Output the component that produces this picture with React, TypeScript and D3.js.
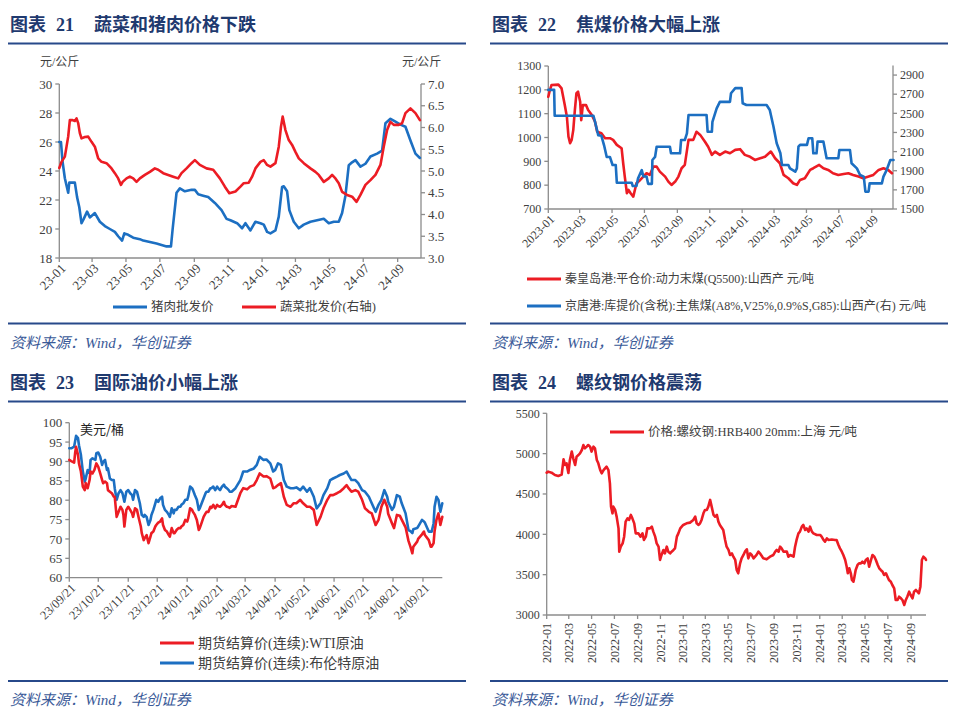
import React from "react";
import * as d3 from "d3";

type P = [number, number];

// ---------------- Panel 21: 蔬菜和猪肉价格 ----------------
const p21Base = "2023-01-01";
const p21End = "2024-10-13";
const p21TickLabels = ["23-01", "23-03", "23-05", "23-07", "23-09", "23-11", "24-01", "24-03", "24-05", "24-07", "24-09"];
const p21LeftTicks = [18, 20, 22, 24, 26, 28, 30];
const p21RightTicks = [3.0, 3.5, 4.0, 4.5, 5.0, 5.5, 6.0, 6.5, 7.0];
// [days since 2023-01-01, 元/公斤]
const porkPrice: P[] = [
  [0, 26.0], [3, 26.0], [6, 24.6], [10, 23.5], [13, 23.0], [16, 22.5], [18, 23.2], [28, 23.2], [32, 22.2], [36, 21.5],
  [40, 20.4], [44, 20.7], [50, 21.2], [55, 20.8], [64, 21.1], [73, 20.5], [82, 20.2], [91, 20.0], [100, 19.8], [106, 19.5],
  [113, 19.2], [117, 19.7], [124, 19.6], [133, 19.4], [145, 19.3], [151, 19.2], [163, 19.1], [175, 19.0], [184, 18.9], [193, 18.8],
  [201, 18.8], [204, 20.0], [211, 22.5], [217, 22.8], [226, 22.6], [238, 22.7], [244, 22.7], [250, 22.4], [259, 22.3], [268, 22.2],
  [280, 21.8], [292, 21.3], [301, 20.7], [308, 20.6], [320, 20.4], [329, 20.05], [335, 20.4], [344, 19.9], [353, 20.5], [362, 20.4],
  [368, 20.3], [374, 19.8], [380, 19.7], [389, 19.9], [395, 20.85], [401, 22.9], [404, 22.95], [410, 22.6], [414, 21.3], [422, 20.5],
  [431, 20.05], [440, 20.3], [452, 20.5], [464, 20.6], [476, 20.7], [485, 20.4], [494, 20.5], [503, 20.5], [509, 21.1], [515, 22.3],
  [521, 24.4], [527, 24.6], [533, 24.75], [542, 24.3], [551, 24.5], [560, 25.0], [572, 25.2], [581, 25.4], [587, 27.3], [596, 27.6],
  [605, 27.4], [614, 27.2], [623, 27.05], [632, 26.1], [641, 25.2], [649, 24.9],
];
const vegPrice: P[] = [
  [0, 5.07], [4, 5.21], [10, 5.33], [13, 5.56], [16, 5.79], [19, 6.17], [24, 6.17], [28, 6.15], [31, 6.21], [34, 6.10],
  [37, 5.87], [40, 5.75], [46, 5.78], [52, 5.79], [58, 5.67], [64, 5.56], [70, 5.29], [76, 5.21], [85, 5.18], [94, 5.06],
  [100, 4.95], [106, 4.83], [111, 4.68], [114, 4.75], [121, 4.83], [127, 4.87], [133, 4.83], [139, 4.75], [145, 4.83], [154, 4.91],
  [163, 4.98], [172, 5.06], [178, 5.03], [187, 4.95], [196, 4.91], [205, 4.87], [214, 4.83], [220, 4.95], [229, 5.06], [238, 5.18],
  [244, 5.25], [253, 5.14], [265, 5.06], [277, 5.03], [289, 4.83], [298, 4.64], [306, 4.49], [317, 4.53], [326, 4.64], [332, 4.72],
  [341, 4.73], [347, 4.87], [353, 5.06], [362, 5.21], [368, 5.25], [374, 5.14], [380, 5.10], [389, 5.18], [395, 5.56], [399, 6.02],
  [402, 6.25], [407, 5.94], [413, 5.71], [419, 5.60], [425, 5.44], [431, 5.29], [440, 5.18], [452, 5.06], [461, 4.98], [467, 4.91],
  [476, 4.75], [485, 4.83], [491, 4.91], [497, 4.83], [503, 4.72], [509, 4.52], [518, 4.45], [527, 4.41], [535, 4.29], [542, 4.45],
  [551, 4.68], [560, 4.79], [569, 4.91], [578, 5.14], [584, 5.56], [590, 5.94], [596, 6.13], [602, 6.06], [611, 6.06], [617, 6.10],
  [623, 6.33], [632, 6.44], [641, 6.33], [649, 6.17],
];

// ---------------- Panel 22: 焦煤价格 ----------------
const p22Base = "2023-01-01";
const p22End = "2024-10-11";
const p22TickLabels = ["2023-01", "2023-03", "2023-05", "2023-07", "2023-09", "2023-11", "2024-01", "2024-03", "2024-05", "2024-07", "2024-09"];
const p22LeftTicks = [700, 800, 900, 1000, 1100, 1200, 1300];
const p22RightTicks = [1500, 1700, 1900, 2100, 2300, 2500, 2700, 2900];
const thermalCoal: P[] = [
  [0, 1171], [3, 1199], [6, 1220], [19, 1222], [25, 1206], [28, 1171], [31, 1136], [35, 1087], [38, 1003], [41, 976],
  [44, 990], [47, 1031], [50, 1115], [53, 1186], [56, 1192], [60, 1150], [62, 1073], [65, 1136], [71, 1136], [75, 1115],
  [82, 1094], [88, 1066], [92, 1024], [100, 1018], [107, 997], [116, 997], [122, 990], [129, 969], [138, 955], [141, 892],
  [144, 836], [148, 766], [151, 780], [155, 766], [160, 752], [163, 780], [166, 808], [173, 822], [179, 836], [185, 850],
  [191, 843], [198, 878], [204, 878], [210, 857], [220, 836], [226, 815], [232, 801], [239, 815], [245, 836], [251, 871],
  [257, 885], [264, 990], [273, 990], [279, 1024], [286, 1011], [295, 982], [301, 961], [308, 927], [314, 941], [323, 927],
  [333, 941], [342, 934], [352, 948], [361, 951], [370, 927], [380, 919], [389, 906], [399, 913], [408, 919], [419, 941],
  [427, 913], [436, 892], [443, 843], [452, 829], [461, 808], [468, 801], [474, 822], [483, 829], [493, 864], [499, 871],
  [510, 885], [518, 871], [527, 864], [536, 850], [546, 843], [556, 847], [565, 850], [574, 843], [584, 836], [593, 829],
  [603, 836], [612, 843], [622, 864], [631, 871], [640, 864], [647, 850],
];
const cokingCoal: P[] = [
  [0, 2745], [11, 2745], [12, 2475], [85, 2475], [88, 2411], [94, 2272], [100, 2265], [105, 2166], [110, 2044], [116, 2044],
  [121, 1960], [127, 1960], [129, 1775], [157, 1775], [159, 1740], [166, 1740], [169, 1820], [176, 1907], [179, 1840], [185, 1840],
  [188, 1763], [195, 1763], [196, 2012], [201, 2044], [204, 2151], [229, 2151], [231, 2082], [248, 2082], [250, 2221], [257, 2221],
  [261, 2291], [264, 2482], [298, 2482], [300, 2308], [308, 2308], [309, 2411], [317, 2552], [323, 2620], [342, 2620], [344, 2710],
  [352, 2763], [364, 2763], [366, 2605], [373, 2587], [411, 2587], [417, 2535], [424, 2360], [430, 2187], [437, 2082], [440, 1960],
  [452, 1960], [455, 1925], [465, 1890], [468, 1925], [471, 2151], [474, 2170], [487, 2170], [490, 2239], [497, 2239], [499, 2082],
  [505, 2082], [507, 2204], [518, 2204], [524, 2030], [546, 2030], [548, 2116], [568, 2116], [571, 1978], [581, 1925], [587, 1855],
  [594, 1838], [597, 1681], [603, 1681], [605, 1768], [628, 1768], [631, 1838], [637, 1907], [644, 2012], [650, 2012],
];

// ---------------- Panel 23: 国际油价 ----------------
const p23Base = "2023-09-21";
const p23End = "2024-10-11";
const p23TickLabels = ["23/09/21", "23/10/21", "23/11/21", "23/12/21", "24/01/21", "24/02/21", "24/03/21", "24/04/21", "24/05/21", "24/06/21", "24/07/21", "24/08/21", "24/09/21"];
const p23Ticks = [60, 65, 70, 75, 80, 85, 90, 95, 100];
const wti: P[] = [
  [0, 90.4], [2, 90.1], [5, 89.7], [6, 92.1], [7, 93.8], [9, 91.7], [10, 89.5], [12, 87.4], [14, 83.5], [16, 82.6],
  [17, 84.4], [19, 83.1], [21, 85.2], [22, 87.4], [24, 86.9], [26, 87.8], [28, 89.5], [30, 88.6], [32, 86.9], [34, 85.2],
  [35, 84.4], [37, 84.8], [39, 84.4], [40, 82.6], [42, 82.2], [44, 81.8], [46, 80.9], [47, 80.9], [49, 75.7], [51, 77.0],
  [53, 78.3], [55, 77.5], [56, 76.2], [57, 73.2], [59, 77.5], [61, 78.3], [63, 77.5], [65, 76.6], [66, 75.7], [68, 77.9],
  [70, 77.5], [72, 75.3], [74, 73.2], [75, 71.5], [77, 69.7], [78, 70.2], [80, 71.0], [82, 68.9], [84, 70.6], [85, 71.5],
  [87, 71.9], [89, 73.2], [90, 73.6], [92, 74.2], [94, 74.5], [96, 75.3], [97, 73.6], [99, 72.3], [101, 71.9], [103, 71.0],
  [104, 70.6], [106, 72.8], [108, 71.5], [109, 71.5], [111, 72.3], [113, 72.8], [115, 72.8], [116, 73.2], [118, 73.6], [120, 74.9],
  [122, 74.5], [123, 75.3], [125, 77.9], [127, 77.5], [128, 77.0], [130, 76.2], [132, 74.9], [134, 72.3], [135, 72.8], [137, 74.2],
  [139, 75.7], [141, 76.6], [142, 77.0], [144, 77.0], [146, 78.3], [147, 78.0], [149, 78.8], [151, 77.9], [153, 78.8], [154, 78.5],
  [156, 78.3], [158, 78.8], [160, 79.6], [161, 78.8], [163, 78.3], [165, 78.2], [166, 78.0], [168, 78.5], [172, 78.3], [177, 81.8],
  [180, 83.1], [184, 82.8], [187, 83.5], [191, 83.9], [194, 85.2], [197, 86.9], [201, 86.1], [204, 86.2], [208, 85.6], [211, 83.1],
  [213, 83.3], [216, 83.9], [219, 84.4], [222, 80.9], [225, 78.8], [229, 78.3], [232, 79.2], [235, 79.2], [239, 80.1], [242, 79.2],
  [246, 78.3], [249, 78.3], [253, 77.5], [256, 73.6], [260, 75.7], [263, 77.9], [267, 80.1], [270, 81.3], [273, 81.3], [277, 81.8],
  [280, 82.2], [284, 83.1], [287, 83.9], [289, 83.1], [292, 82.2], [296, 82.6], [299, 82.2], [303, 80.1], [306, 77.9], [310, 77.0],
  [313, 76.6], [317, 73.6], [320, 74.9], [323, 78.3], [326, 80.1], [329, 78.3], [330, 76.5], [334, 74.0], [336, 72.8], [339, 76.2],
  [342, 76.0], [344, 75.0], [348, 73.0], [351, 69.5], [353, 68.0], [355, 66.3], [356, 68.0], [360, 69.3], [361, 70.0], [365, 71.2],
  [367, 71.9], [368, 71.0], [372, 69.7], [374, 68.0], [375, 68.0], [377, 68.9], [378, 72.0], [380, 75.0], [382, 76.6], [384, 73.6],
  [386, 75.7],
];
const brent: P[] = [
  [0, 93.4], [2, 93.4], [5, 93.8], [7, 96.6], [9, 96.0], [10, 94.2], [12, 91.7], [14, 87.4], [16, 84.8], [17, 85.6],
  [19, 87.8], [21, 86.9], [22, 90.4], [24, 90.8], [27, 90.4], [28, 92.1], [30, 92.3], [32, 91.2], [34, 89.1], [35, 89.9],
  [37, 90.4], [39, 87.8], [40, 88.2], [42, 85.6], [44, 85.2], [46, 85.2], [47, 83.1], [49, 80.1], [51, 81.8], [53, 82.6],
  [55, 81.8], [57, 79.6], [59, 82.2], [61, 82.6], [63, 81.8], [65, 81.3], [66, 80.1], [68, 82.6], [70, 82.2], [73, 79.2],
  [75, 76.2], [77, 75.7], [78, 76.2], [80, 75.7], [82, 73.6], [84, 74.9], [85, 76.2], [87, 77.5], [89, 79.2], [90, 80.1],
  [92, 79.6], [94, 80.5], [96, 80.9], [97, 78.8], [99, 77.5], [101, 77.0], [103, 76.2], [104, 75.7], [106, 77.9], [108, 76.6],
  [109, 77.5], [111, 77.5], [113, 78.3], [115, 78.3], [116, 78.8], [118, 79.2], [120, 80.1], [122, 80.1], [123, 80.9], [125, 83.5],
  [127, 83.1], [128, 82.6], [130, 81.3], [132, 80.1], [134, 77.5], [135, 77.9], [137, 79.2], [139, 80.5], [141, 81.8], [142, 82.2],
  [144, 82.2], [146, 83.1], [147, 83.1], [149, 83.5], [151, 82.6], [153, 83.5], [154, 83.1], [156, 82.6], [158, 83.5], [160, 84.0],
  [161, 83.5], [163, 83.1], [165, 82.6], [166, 82.2], [168, 82.2], [172, 83.1], [177, 85.2], [180, 87.4], [184, 87.4], [187, 87.8],
  [191, 88.2], [194, 89.1], [197, 91.2], [201, 90.4], [204, 90.5], [208, 89.5], [211, 87.4], [213, 87.8], [216, 89.5], [219, 89.1],
  [222, 85.2], [225, 83.5], [229, 83.1], [232, 83.1], [235, 83.3], [239, 82.6], [242, 83.5], [246, 82.2], [249, 83.1], [253, 80.9],
  [256, 77.9], [260, 79.2], [263, 81.3], [267, 83.1], [270, 85.2], [273, 85.6], [277, 86.1], [280, 86.5], [284, 86.9], [287, 87.4],
  [289, 86.5], [292, 85.2], [296, 85.2], [299, 84.4], [303, 82.6], [306, 82.2], [310, 80.9], [313, 79.2], [317, 77.0], [320, 78.8],
  [323, 80.1], [326, 82.6], [329, 80.9], [330, 79.6], [334, 77.5], [336, 78.3], [339, 81.3], [342, 80.9], [344, 79.2], [348, 76.6],
  [351, 72.3], [353, 72.0], [355, 71.5], [356, 72.5], [360, 72.8], [361, 73.2], [365, 74.9], [367, 74.5], [368, 74.2], [372, 71.9],
  [374, 71.9], [375, 71.9], [377, 74.0], [378, 78.3], [380, 80.9], [382, 80.1], [384, 77.0], [386, 79.2],
];

// ---------------- Panel 24: 螺纹钢 ----------------
const p24Base = "2022-01-01";
const p24End = "2024-10-11";
const p24TickLabels = ["2022-01", "2022-03", "2022-05", "2022-07", "2022-09", "2022-11", "2023-01", "2023-03", "2023-05", "2023-07", "2023-09", "2023-11", "2024-01", "2024-03", "2024-05", "2024-07", "2024-09"];
const p24Ticks = [3000, 3500, 4000, 4500, 5000, 5500];
const rebar: P[] = [
  [0, 4764], [4, 4777], [13, 4764], [22, 4735], [31, 4723], [40, 4740], [45, 4930], [49, 4860], [53, 4880], [58, 4760],
  [62, 4921], [67, 5025], [71, 4942], [76, 4860], [80, 4963], [85, 4983], [89, 5004], [94, 5045], [98, 5107], [102, 5066],
  [107, 5087], [111, 5107], [116, 5087], [120, 5025], [125, 5087], [129, 5066], [134, 4921], [138, 4880], [143, 4797], [147, 4756],
  [152, 4797], [156, 4818], [160, 4839], [165, 4797], [169, 4632], [172, 4343], [176, 4260], [178, 4343], [183, 4302], [187, 4219],
  [192, 4074], [194, 3785], [198, 3847], [203, 3888], [207, 3971], [211, 4157], [216, 4198], [220, 4178], [225, 4240], [229, 4198],
  [234, 4136], [238, 4012], [245, 4012], [251, 3971], [256, 4012], [260, 3930], [265, 3971], [269, 4074], [276, 4074], [281, 4095],
  [285, 4033], [290, 3971], [294, 3888], [299, 3847], [303, 3682], [307, 3744], [312, 3806], [316, 3764], [321, 3847], [325, 3785],
  [330, 3764], [334, 3785], [339, 3806], [343, 3826], [348, 3971], [352, 4012], [357, 4074], [365, 4116], [374, 4136], [383, 4145],
  [392, 4178], [397, 4219], [401, 4136], [406, 4116], [410, 4136], [414, 4178], [419, 4260], [423, 4302], [428, 4302], [432, 4343],
  [437, 4426], [441, 4343], [446, 4240], [450, 4219], [455, 4240], [459, 4157], [463, 4116], [472, 4054], [477, 3930], [481, 3847],
  [486, 3806], [490, 3744], [495, 3764], [499, 3723], [504, 3682], [508, 3558], [512, 3517], [517, 3640], [521, 3702], [526, 3744],
  [530, 3785], [535, 3814], [539, 3702], [544, 3764], [548, 3744], [553, 3702], [557, 3723], [561, 3744], [566, 3785], [570, 3764],
  [575, 3731], [579, 3702], [588, 3690], [597, 3723], [606, 3744], [611, 3785], [615, 3806], [620, 3785], [624, 3847], [628, 3826],
  [633, 3785], [642, 3785], [646, 3723], [651, 3744], [660, 3723], [664, 3847], [668, 3930], [673, 4012], [677, 4033], [682, 4095],
  [686, 4116], [691, 4054], [695, 4074], [700, 4033], [704, 4095], [709, 4033], [713, 4012], [722, 3992], [731, 3992], [735, 3971],
  [740, 3930], [744, 3909], [749, 3950], [753, 3930], [762, 3935], [771, 3930], [775, 3930], [780, 3868], [784, 3826], [789, 3785],
  [793, 3744], [798, 3682], [802, 3599], [805, 3517], [809, 3579], [813, 3517], [816, 3434], [820, 3413], [822, 3455], [826, 3558],
  [831, 3620], [835, 3640], [840, 3640], [844, 3661], [849, 3640], [853, 3682], [858, 3702], [862, 3599], [867, 3682], [871, 3744],
  [876, 3723], [880, 3682], [885, 3620], [889, 3579], [893, 3558], [898, 3537], [902, 3496], [907, 3517], [911, 3475], [915, 3434],
  [920, 3413], [924, 3372], [929, 3331], [933, 3186], [938, 3186], [942, 3227], [947, 3207], [951, 3186], [956, 3124], [960, 3186],
  [964, 3227], [969, 3289], [973, 3248], [978, 3207], [982, 3289], [987, 3310], [991, 3289], [995, 3269], [999, 3351], [1003, 3682],
  [1007, 3723], [1012, 3702], [1014, 3682],
];

// ---------------- styling ----------------
const RED = "#ec1c24";
const BLUE = "#1c6fc2";
const NAVY = "#1f3a6f";
const RULE = "#27498a";
const AXIS = "#8c8c8c";
const TXT = "#404040";
const FOOT = "#3a5a98";
const SERIF = "'Liberation Serif','Times New Roman','Noto Sans CJK SC',serif";
const SANS = "'Noto Sans CJK SC','Noto Sans',sans-serif";

function dayDate(base: string, d: number) {
  const [y, m, dd] = base.split("-").map(Number);
  return new Date(y, m - 1, dd + d);
}
function parseTick(s: string) {
  if (s.includes("/")) {
    const [y, m, d] = s.split("/").map(Number);
    return new Date(2000 + y, m - 1, d);
  }
  const [a, b] = s.split("-").map(Number);
  return new Date(a < 100 ? 2000 + a : a, b - 1, 1);
}

function YAxis({ scale, ticks, x, side, fmt, fs }: any) {
  const [r0, r1] = scale.range();
  const dir = side === "left" ? -1 : 1;
  return (
    <g>
      <line x1={x} x2={x} y1={r0} y2={r1} stroke={AXIS} strokeWidth={1.3} />
      {ticks.map((t: number) => {
        const y = scale(t);
        return (
          <g key={t}>
            <line x1={x} x2={x + dir * 4} y1={y} y2={y} stroke={AXIS} strokeWidth={1.3} />
            <text x={x + dir * 7} y={y} dy="0.35em" textAnchor={side === "left" ? "end" : "start"} fontSize={fs} fontFamily={SERIF} fill={TXT}>
              {fmt(t)}
            </text>
          </g>
        );
      })}
    </g>
  );
}

function XAxis({ scale, labels, y, fs, rot }: any) {
  const [r0, r1] = scale.range();
  return (
    <g>
      <line x1={r0} x2={r1} y1={y} y2={y} stroke={AXIS} strokeWidth={1.3} />
      {labels.map((l: string, i: number) => {
        const x = scale(parseTick(l));
        return (
          <g key={i}>
            <line x1={x} x2={x} y1={y} y2={y + 4} stroke={AXIS} strokeWidth={1.3} />
            {rot === -45 ? (
              <text transform={`translate(${x + 4},${y + 8}) rotate(-45)`} textAnchor="end" dy="0.35em" fontSize={fs} fontFamily={SERIF} fill={TXT}>
                {l}
              </text>
            ) : (
              <text transform={`translate(${x},${y + 8}) rotate(-90)`} textAnchor="end" dy="0.35em" fontSize={fs} fontFamily={SERIF} fill={TXT}>
                {l}
              </text>
            )}
          </g>
        );
      })}
    </g>
  );
}

function Series({ data, base, x, y, color }: any) {
  const gen = d3
    .line<P>()
    .x((d) => x(dayDate(base, d[0])))
    .y((d) => y(d[1]));
  return <path d={gen(data) || ""} fill="none" stroke={color} strokeWidth={2.6} strokeLinejoin="round" strokeLinecap="round" />;
}

function LegendItem({ x, y, color, label, fs }: any) {
  return (
    <g>
      <line x1={x} x2={x + 34} y1={y} y2={y} stroke={color} strokeWidth={3} />
      <text x={x + 38} y={y} dy="0.35em" fontSize={fs} fontFamily={SERIF} fill={TXT}>
        {label}
      </text>
    </g>
  );
}

function Frame({ x, y, w, num, title, bottom }: any) {
  return (
    <g>
      <g fill={NAVY} fontWeight="bold" fontSize={18}>
        <text x={x + 2} y={y} fontFamily={SANS}>图表</text>
        <text x={x + 48} y={y} fontFamily={SERIF}>{num}</text>
        <text x={x + 86} y={y} fontFamily={SANS}>{title}</text>
      </g>
      <line x1={x} x2={x + w} y1={y + 12.5} y2={y + 12.5} stroke={RULE} strokeWidth={2.2} />
      <line x1={x} x2={x + w} y1={bottom} y2={bottom} stroke={RULE} strokeWidth={2.2} />
      <text x={x + 2} y={bottom + 24} fontSize={15} fontStyle="italic" fontFamily={SERIF} fill={FOOT}>
        资料来源：Wind，华创证券
      </text>
    </g>
  );
}

export default function App() {
  // Panel 21 scales
  const x21 = d3.scaleTime().domain([dayDate(p21Base, 0), parseDate(p21End)]).range([59.3, 421]);
  const yL21 = d3.scaleLinear().domain([18, 30]).range([258, 84]);
  const yR21 = d3.scaleLinear().domain([3, 7]).range([258, 84]);
  // Panel 22
  const x22 = d3.scaleTime().domain([dayDate(p22Base, 0), parseDate(p22End)]).range([548.3, 893]);
  const yL22 = d3.scaleLinear().domain([700, 1300]).range([209, 66]);
  const yR22 = d3.scaleLinear().domain([1500, 3000]).range([209, 65.5]);
  // Panel 23
  const x23 = d3.scaleTime().domain([dayDate(p23Base, 0), parseDate(p23End)]).range([69.3, 442.3]);
  const y23 = d3.scaleLinear().domain([60, 100]).range([577.7, 422.7]);
  // Panel 24
  const x24 = d3.scaleTime().domain([dayDate(p24Base, 0), parseDate(p24End)]).range([546.7, 926]);
  const y24 = d3.scaleLinear().domain([3000, 5500]).range([615, 413.3]);

  return (
    <svg width={960} height={721} style={{ position: "absolute", left: 0, top: 0, background: "#fff" }}>
      <rect width={960} height={721} fill="#fff" />
      {/* Panel 21 */}
      <Frame x={8} y={31} w={458} num="21" title="蔬菜和猪肉价格下跌" bottom={323.5} />
      <text x={40} y={62} dy="0.35em" fontSize={12} fontFamily={SERIF} fill={TXT}>元/公斤</text>
      <text x={402} y={62} dy="0.35em" fontSize={12} fontFamily={SERIF} fill={TXT}>元/公斤</text>
      <YAxis scale={yL21} ticks={p21LeftTicks} x={59.3} side="left" fmt={(v: number) => String(v)} fs={13} />
      <YAxis scale={yR21} ticks={p21RightTicks} x={421} side="right" fmt={(v: number) => v.toFixed(1)} fs={13} />
      <XAxis scale={x21} labels={p21TickLabels} y={258} fs={13} rot={-45} />
      <Series data={porkPrice} base={p21Base} x={x21} y={yL21} color={BLUE} />
      <Series data={vegPrice} base={p21Base} x={x21} y={yR21} color={RED} />
      <LegendItem x={113} y={307} color={BLUE} label="猪肉批发价" fs={12.5} />
      <LegendItem x={242} y={307} color={RED} label="蔬菜批发价(右轴)" fs={12.5} />

      {/* Panel 22 */}
      <Frame x={490} y={31} w={458} num="22" title="焦煤价格大幅上涨" bottom={323.5} />
      <YAxis scale={yL22} ticks={p22LeftTicks} x={548.3} side="left" fmt={(v: number) => String(v)} fs={12} />
      <YAxis scale={yR22} ticks={p22RightTicks} x={893} side="right" fmt={(v: number) => String(v)} fs={12} />
      <XAxis scale={x22} labels={p22TickLabels} y={209} fs={12} rot={-45} />
      <Series data={thermalCoal} base={p22Base} x={x22} y={yL22} color={RED} />
      <Series data={cokingCoal} base={p22Base} x={x22} y={yR22} color={BLUE} />
      <LegendItem x={527} y={279} color={RED} label="秦皇岛港:平仓价:动力末煤(Q5500):山西产 元/吨" fs={12} />
      <LegendItem x={527} y={306} color={BLUE} label="京唐港:库提价(含税):主焦煤(A8%,V25%,0.9%S,G85):山西产(右) 元/吨" fs={12} />

      {/* Panel 23 */}
      <Frame x={8} y={389} w={458} num="23" title="国际油价小幅上涨" bottom={681} />
      <text x={80} y={429} dy="0.35em" fontSize={13} fontFamily={SANS} fill="#222">美元/桶</text>
      <YAxis scale={y23} ticks={p23Ticks} x={69.3} side="left" fmt={(v: number) => String(v)} fs={13} />
      <XAxis scale={x23} labels={p23TickLabels} y={577.7} fs={12.5} rot={-45} />
      <Series data={brent} base={p23Base} x={x23} y={y23} color={BLUE} />
      <Series data={wti} base={p23Base} x={x23} y={y23} color={RED} />
      <LegendItem x={160} y={643} color={RED} label="期货结算价(连续):WTI原油" fs={14} />
      <LegendItem x={160} y={663} color={BLUE} label="期货结算价(连续):布伦特原油" fs={14} />

      {/* Panel 24 */}
      <Frame x={490} y={389} w={458} num="24" title="螺纹钢价格震荡" bottom={681} />
      <YAxis scale={y24} ticks={p24Ticks} x={546.7} side="left" fmt={(v: number) => String(v)} fs={12} />
      <XAxis scale={x24} labels={p24TickLabels} y={615} fs={12} rot={-90} />
      <Series data={rebar} base={p24Base} x={x24} y={y24} color={RED} />
      <LegendItem x={610} y={432} color={RED} label="价格:螺纹钢:HRB400 20mm:上海 元/吨" fs={12.5} />
    </svg>
  );
}

function parseDate(s: string) {
  const [y, m, d] = s.split("-").map(Number);
  return new Date(y, m - 1, d);
}
